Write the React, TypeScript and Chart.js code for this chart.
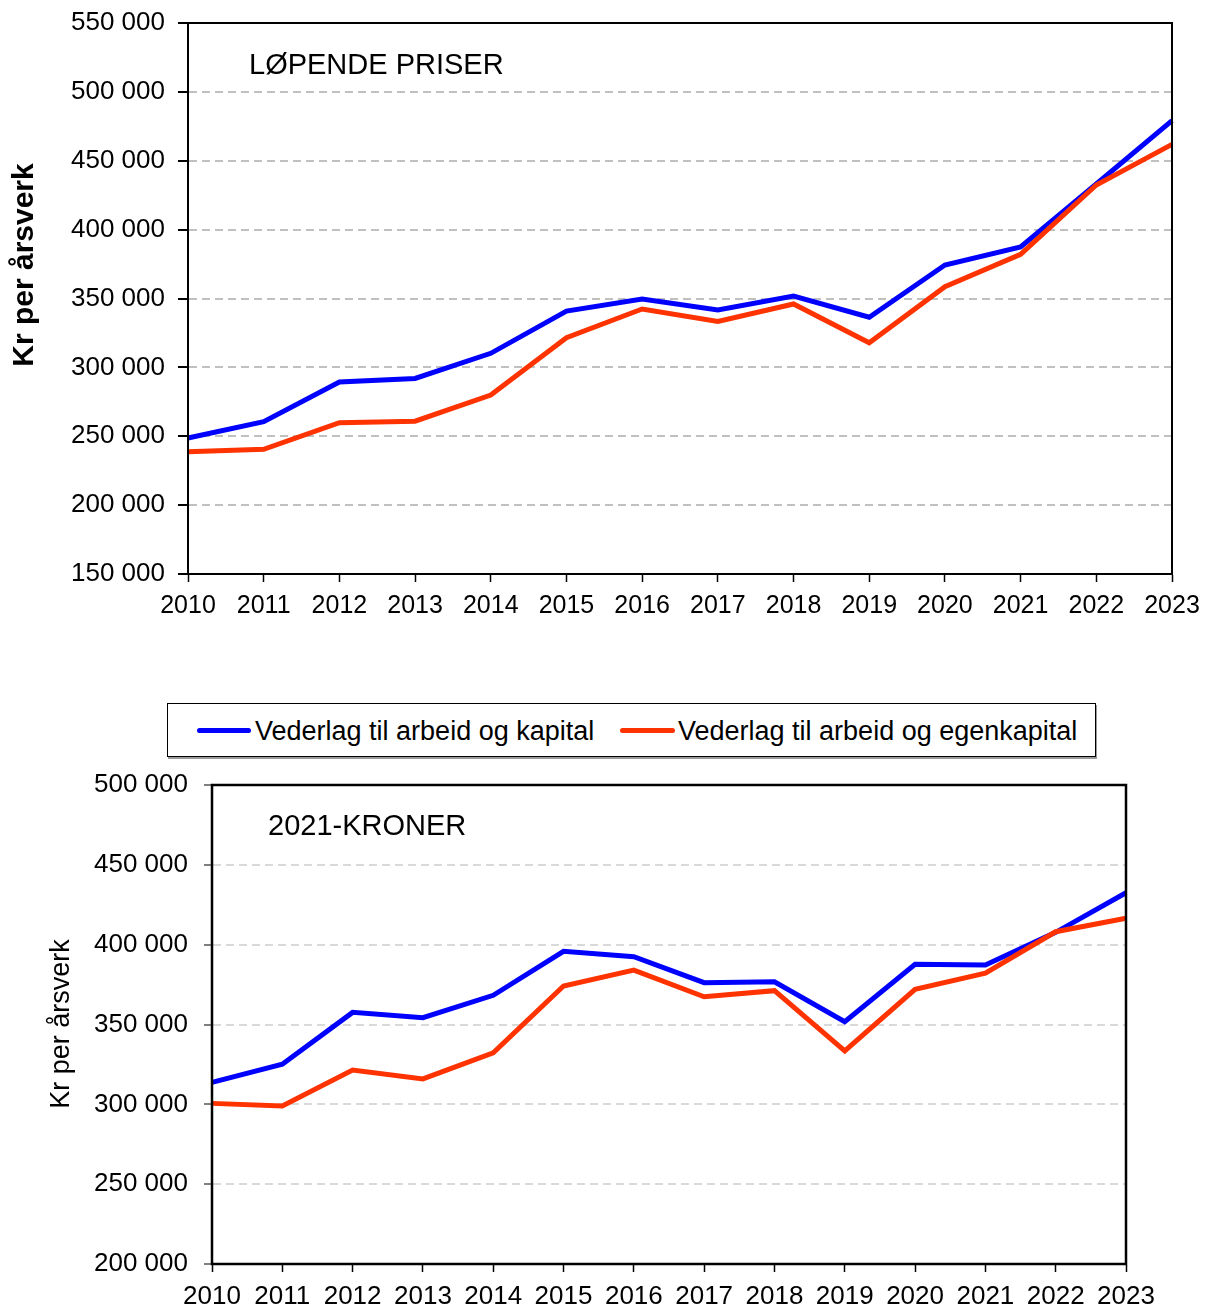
import React, { useEffect, useRef } from 'react';
import { Chart, registerables } from 'chart.js';

Chart.register(...registerables);

const years = ['2010', '2011', '2012', '2013', '2014', '2015', '2016', '2017', '2018', '2019', '2020', '2021', '2022', '2023'];

// LØPENDE PRISER
const nominalCapital = [248700, 260600, 289400, 292000, 310200, 340900, 349600, 341700, 351800, 336400, 374300, 387400, 433100, 479100];
const nominalEquity = [238800, 240500, 259800, 260900, 279900, 321500, 342400, 333400, 346000, 317900, 358600, 382100, 432400, 461900];

// 2021-KRONER
const realCapital = [313800, 325100, 357600, 354300, 368300, 395800, 392500, 376200, 376800, 351800, 387700, 387300, 407700, 432500];
const realEquity = [300600, 299000, 321500, 315900, 332300, 374100, 384100, 367400, 371200, 333400, 372000, 382100, 408100, 416500];

const seriesNames = ['Vederlag til arbeid og kapital', 'Vederlag til arbeid og egenkapital'];
const seriesColors = ['#0000ff', '#ff3300'];

const FONT = '"Liberation Sans", Arial, Helvetica, sans-serif';

const fmt = (v: number) => String(v).replace(/\B(?=(\d{3})+(?!\d))/g, ' ');

type PanelCfg = {
  width: number;
  height: number;
  capital: number[];
  equity: number[];
  yMin: number;
  yMax: number;
  padding: { top: number; right: number; bottom: number; left: number };
  yWidth: number;
  xHeight: number;
  yTickLength: number;
  yTickPadding: number;
  yTickColor: string;
  yTickFont: number;
  xTickFont: number;
  xTickPadding: number;
  gridColor: string;
  frameWidth: number;
  label: string;
  labelX: number;
  labelY: number;
  labelFont: string;
  title: string;
  titleX: number;
  titleY: number;
  titleFont: string;
};

function makeFramePlugin(cfg: PanelCfg) {
  return {
    id: 'frameAndText',
    afterDraw(chart: any) {
      const { ctx, chartArea: a } = chart;
      ctx.save();
      ctx.strokeStyle = '#000';
      ctx.lineWidth = cfg.frameWidth;
      ctx.strokeRect(a.left, a.top, a.right - a.left, a.bottom - a.top);
      ctx.fillStyle = '#000';
      ctx.font = cfg.labelFont;
      ctx.textAlign = 'left';
      ctx.textBaseline = 'middle';
      ctx.fillText(cfg.label, cfg.labelX, cfg.labelY);
      ctx.translate(cfg.titleX, cfg.titleY);
      ctx.rotate(-Math.PI / 2);
      ctx.font = cfg.titleFont;
      ctx.textAlign = 'center';
      ctx.textBaseline = 'middle';
      ctx.fillText(cfg.title, 0, 0);
      ctx.restore();
    },
  };
}

function Panel({ cfg, style }: { cfg: PanelCfg; style: React.CSSProperties }) {
  const ref = useRef<HTMLCanvasElement | null>(null);
  useEffect(() => {
    if (!ref.current) return;
    const chart = new Chart(ref.current, {
      type: 'line',
      data: {
        labels: years,
        datasets: [
          {
            label: seriesNames[1],
            data: cfg.equity,
            borderColor: seriesColors[1],
            backgroundColor: seriesColors[1],
            borderWidth: 5,
            pointRadius: 0,
            tension: 0,
            order: 0,
          },
          {
            label: seriesNames[0],
            data: cfg.capital,
            borderColor: seriesColors[0],
            backgroundColor: seriesColors[0],
            borderWidth: 5,
            pointRadius: 0,
            tension: 0,
            order: 1,
          },
        ],
      },
      options: {
        responsive: false,
        animation: false,
        layout: { padding: cfg.padding },
        plugins: {
          legend: { display: false },
          tooltip: { enabled: false },
        },
        scales: {
          x: {
            type: 'category',
            offset: false,
            grid: {
              drawOnChartArea: false,
              drawTicks: true,
              tickLength: 8,
              tickColor: '#000',
              tickWidth: 1.5,
            },
            border: { display: true, color: '#000', width: 2 },
            ticks: {
              autoSkip: false,
              maxRotation: 0,
              minRotation: 0,
              padding: cfg.xTickPadding,
              color: '#000',
              font: { family: FONT, size: cfg.xTickFont },
            },
            afterFit: (s: any) => {
              s.height = cfg.xHeight;
              s.paddingLeft = 0;
              s.paddingRight = 0;
            },
          },
          y: {
            min: cfg.yMin,
            max: cfg.yMax,
            grid: {
              color: cfg.gridColor,
              lineWidth: 2,
              drawTicks: true,
              tickLength: cfg.yTickLength,
              tickColor: cfg.yTickColor,
              tickWidth: 2,
              tickBorderDash: [],
            },
            border: { display: true, color: '#000', width: 2, dash: [8, 5] },
            ticks: {
              stepSize: 50000,
              padding: cfg.yTickPadding,
              color: '#000',
              font: { family: FONT, size: cfg.yTickFont },
              callback: (v: any) => fmt(Number(v)),
            },
            afterFit: (s: any) => {
              s.width = cfg.yWidth;
              s.paddingTop = 0;
              s.paddingBottom = 0;
            },
          },
        },
      },
      plugins: [makeFramePlugin(cfg)],
    } as any);
    return () => chart.destroy();
  }, [cfg]);
  return <canvas ref={ref} width={cfg.width} height={cfg.height} style={{ position: 'absolute', display: 'block', ...style }} />;
}

const topCfg: PanelCfg = {
  width: 1205,
  height: 620,
  capital: nominalCapital,
  equity: nominalEquity,
  yMin: 150000,
  yMax: 550000,
  padding: { top: 23, right: 33, bottom: 4, left: 0 },
  yWidth: 188,
  xHeight: 42,
  yTickLength: 10,
  yTickPadding: 13,
  yTickColor: '#000',
  yTickFont: 26,
  xTickFont: 25,
  xTickPadding: 9,
  gridColor: '#c0c0c0',
  frameWidth: 2,
  label: 'LØPENDE PRISER',
  labelX: 249,
  labelY: 66,
  labelFont: `29px ${FONT}`,
  title: 'Kr per årsverk',
  titleX: 25,
  titleY: 265,
  titleFont: `bold 30px ${FONT}`,
};

const bottomCfg: PanelCfg = {
  width: 1205,
  height: 548,
  capital: realCapital,
  equity: realEquity,
  yMin: 200000,
  yMax: 500000,
  padding: { top: 25, right: 79, bottom: 0, left: 0 },
  yWidth: 212,
  xHeight: 44,
  yTickLength: 8,
  yTickPadding: 16,
  yTickColor: '#808080',
  yTickFont: 26,
  xTickFont: 26,
  xTickPadding: 9,
  gridColor: '#d9d9d9',
  frameWidth: 2.5,
  label: '2021-KRONER',
  labelX: 268,
  labelY: 67,
  labelFont: `29px ${FONT}`,
  title: 'Kr per årsverk',
  titleX: 62,
  titleY: 264,
  titleFont: `27px ${FONT}`,
};

function Legend() {
  const text: React.CSSProperties = {
    position: 'absolute',
    top: 0,
    height: 54,
    lineHeight: '54px',
    fontFamily: FONT,
    fontSize: 27,
    color: '#000',
    whiteSpace: 'nowrap',
  };
  const line = (color: string, left: number, width: number): React.CSSProperties => ({
    position: 'absolute',
    left,
    top: 24,
    width,
    height: 5,
    borderRadius: 3,
    background: color,
  });
  return (
    <div
      style={{
        position: 'absolute',
        left: 167,
        top: 703,
        width: 927,
        height: 52,
        border: '1px solid #000',
        boxShadow: '1px 2px 0 #9a9a9a',
        background: '#fff',
      }}
    >
      <div style={line(seriesColors[0], 29, 54)} />
      <div style={{ ...text, left: 87 }}>{seriesNames[0]}</div>
      <div style={line(seriesColors[1], 452, 55)} />
      <div style={{ ...text, left: 510 }}>{seriesNames[1]}</div>
    </div>
  );
}

export default function App() {
  return (
    <div style={{ position: 'absolute', left: 0, top: 0, width: 1205, height: 1308, background: '#fff', overflow: 'hidden' }}>
      <Panel cfg={topCfg} style={{ left: 0, top: 0 }} />
      <Legend />
      <Panel cfg={bottomCfg} style={{ left: 0, top: 760 }} />
    </div>
  );
}
